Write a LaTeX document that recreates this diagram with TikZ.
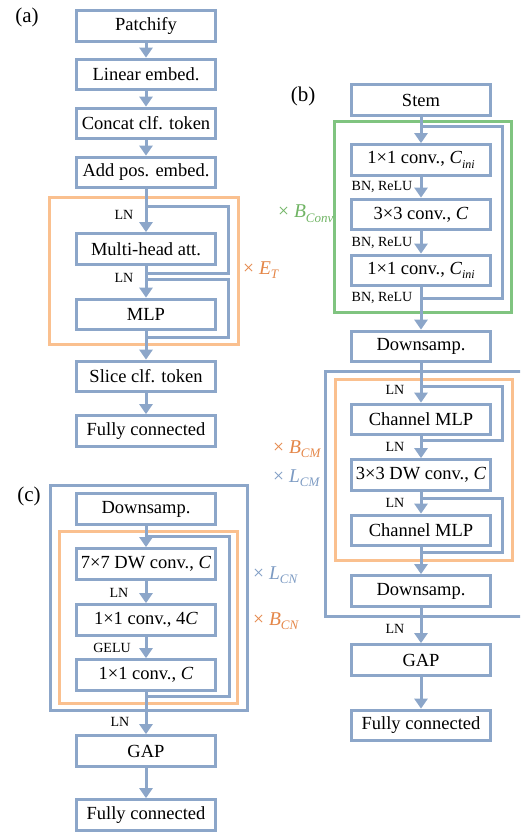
\documentclass[tikz,border=0pt]{standalone}
\usepackage{fontspec}
\setmainfont{Liberation Serif}
\usetikzlibrary{arrows.meta}

\definecolor{lineblue}{RGB}{140,166,201}
\definecolor{frameorange}{RGB}{250,192,143}
\definecolor{textorange}{RGB}{228,134,72}
\definecolor{framegreen}{RGB}{128,196,128}
\definecolor{textgreen}{RGB}{112,180,100}
\definecolor{textblue}{RGB}{125,155,195}

% lowered italic subscript
\newcommand\lowsub[2][13]{\raisebox{-0.55ex}{\fontsize{#1}{#1}\selectfont\itshape #2}}

\begin{document}
\begin{tikzpicture}[x=1pt,y=-1pt,
  blk/.style={draw=lineblue, line width=3.2pt, fill=white, minimum width=139pt,
    minimum height=30.5pt, inner sep=0pt, font=\fontsize{18.5}{18.5}\selectfont},
  flow/.style={draw=lineblue, line width=3pt, -{Triangle[width=13pt,length=10pt]}},
  loopline/.style={draw=lineblue, line width=3pt},
  frame/.style={line width=3pt},
  lbl/.style={font=\fontsize{14}{14}\selectfont, inner sep=0pt},
  tag/.style={font=\fontsize{19.5}{19.5}\selectfont, inner sep=0pt, anchor=base west},
  panel/.style={font=\fontsize{21}{21}\selectfont, inner sep=0pt}]

\useasboundingbox (0,0) rectangle (520,834);
\clip (0,0) rectangle (520,834);

% ---------------- (a) ----------------
\node[panel] (pa) at (27,17) {(a)};
\draw[frame, frameorange] (49,198) rectangle (238,344);

\coordinate (a1s) at (146,207); \coordinate (a1e) at (146,273);
\coordinate (a2s) at (146,279); \coordinate (a2e) at (146,337);
\draw[loopline] (a1s) -| ([xshift=82pt]a1e) -- (a1e);
\draw[loopline] (a2s) -| ([xshift=82pt]a2e) -- (a2e);

\node[blk] (pat) at (146,26) {Patchify};
\node[blk] (lin) at (146,74.5) {Linear embed.};
\node[blk] (cat) at (146,123.5) {Concat clf. token};
\node[blk] (pos) at (146,172.5) {Add pos. embed.};
\node[blk] (mha) at (146,249) {Multi-head att.};
\node[blk] (mlpa) at (146,314.5) {MLP};
\node[blk] (slc) at (146,376.5) {Slice clf. token};
\node[blk] (fca) at (146,431) {Fully connected};

\draw[flow] (pat) -- (lin);
\draw[flow] (lin) -- (cat);
\draw[flow] (cat) -- (pos);
\draw[flow] (pos) -- (mha);
\draw[flow] (mha) -- (mlpa);
\draw[flow] (mlpa) -- (slc);
\draw[flow] (slc) -- (fca);

\node[lbl] (ln1) at (124,215) {LN};
\node[lbl] (ln2) at (124,278) {LN};
\node[tag, text=textorange] (et) at (243,274) {× \textit{E}\lowsub{T}};

% ---------------- (b) ----------------
\node[panel] (pb) at (303,96) {(b)};
\draw[frame, framegreen] (334,122) rectangle (511,312);
\draw[frame, lineblue] (325,371) rectangle (530,616);
\draw[frame, frameorange] (335,379) rectangle (512,560);

\coordinate (b1s) at (421,127); \coordinate (b1e) at (421,298);
\coordinate (b2s) at (421,386); \coordinate (b2e) at (421,440);
\coordinate (b3s) at (421,498); \coordinate (b3e) at (421,552);
\draw[loopline] (b1s) -| ([xshift=81pt]b1e) -- (b1e);
\draw[loopline] (b2s) -| ([xshift=81pt]b2e) -- (b2e);
\draw[loopline] (b3s) -| ([xshift=81pt]b3e) -- (b3e);

\node[blk] (stem) at (421,100) {Stem};
\node[blk] (cv1) at (421,160) {1×1 conv., \textit{C}\lowsub[12]{ini}};
\node[blk] (cv2) at (421,214.5) {3×3 conv., \textit{C}};
\node[blk] (cv3) at (421,270.5) {1×1 conv., \textit{C}\lowsub[12]{ini}};
\node[blk] (dsb1) at (421,346.5) {Downsamp.};
\node[blk] (cm1) at (421,419.5) {Channel MLP};
\node[blk] (dw3) at (421,475) {3×3 DW conv., \textit{C}};
\node[blk] (cm2) at (421,530.5) {Channel MLP};
\node[blk] (dsb2) at (421,591) {Downsamp.};
\node[blk] (gapb) at (421,660) {GAP};
\node[blk] (fcb) at (421,725.5) {Fully connected};

\draw[flow] (stem) -- (cv1);
\draw[flow] (cv1) -- (cv2);
\draw[flow] (cv2) -- (cv3);
\draw[flow] (cv3) -- (dsb1);
\draw[flow] (dsb1) -- (cm1);
\draw[flow] (cm1) -- (dw3);
\draw[flow] (dw3) -- (cm2);
\draw[flow] (cm2) -- (dsb2);
\draw[flow] (dsb2) -- (gapb);
\draw[flow] (gapb) -- (fcb);

\node[lbl] (bn1) at (382,187) {BN, ReLU};
\node[lbl] (bn2) at (382,243) {BN, ReLU};
\node[lbl] (bn3) at (382,298) {BN, ReLU};
\node[lbl] (ln3) at (395,390) {LN};
\node[lbl] (ln4) at (395,447) {LN};
\node[lbl] (ln5) at (395,503) {LN};
\node[lbl] (ln6) at (395,629) {LN};

\node[tag, text=textgreen] (bconv) at (278,218) {× \textit{B}\lowsub{Conv}};
\node[tag, text=textorange] (bcm) at (273,453) {× \textit{B}\lowsub{CM}};
\node[tag, text=textblue] (lcm) at (273,482) {× \textit{L}\lowsub{CM}};

% ---------------- (c) ----------------
\node[panel] (pc) at (29,496) {(c)};
\draw[frame, lineblue] (50,485) rectangle (247,710);
\draw[frame, frameorange] (59,531) rectangle (237,703);

\coordinate (c1s) at (146,536); \coordinate (c1e) at (146,696);
\draw[loopline] (c1s) -| ([xshift=83pt]c1e) -- (c1e);

\node[blk] (dsc) at (146,509) {Downsamp.};
\node[blk] (dw7) at (146,564) {7×7 DW conv., \textit{C}};
\node[blk] (pw1) at (146,620) {1×1 conv., 4\textit{C}};
\node[blk] (pw2) at (146,675) {1×1 conv., \textit{C}};
\node[blk] (gapc) at (146,751) {GAP};
\node[blk] (fcc) at (146,815) {Fully connected};

\draw[flow] (dsc) -- (dw7);
\draw[flow] (dw7) -- (pw1);
\draw[flow] (pw1) -- (pw2);
\draw[flow] (pw2) -- (gapc);
\draw[flow] (gapc) -- (fcc);

\node[lbl] (ln7) at (119,593) {LN};
\node[lbl] (gelu) at (112,648) {GELU};
\node[lbl] (ln8) at (120,722) {LN};

\node[tag, text=textblue] (lcn) at (253,579) {× \textit{L}\lowsub{CN}};
\node[tag, text=textorange] (bcn) at (253,625) {× \textit{B}\lowsub{CN}};
\end{tikzpicture}
\end{document}
